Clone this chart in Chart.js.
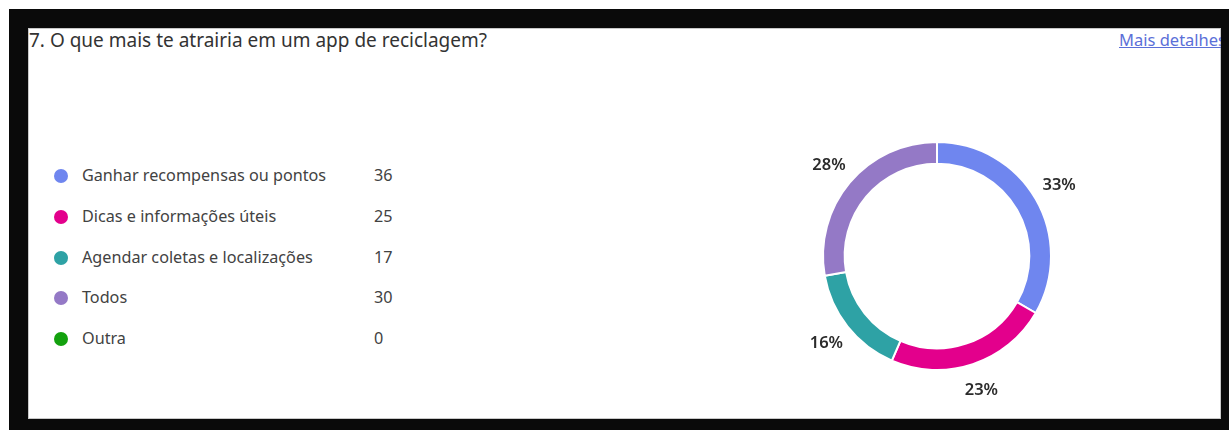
<!DOCTYPE html>
<html>
<head>
<meta charset="utf-8">
<script src="https://cdn.jsdelivr.net/npm/chart.js@4.4.1/dist/chart.umd.min.js"></script>
<style>
  html, body { margin: 0; padding: 0; background: #fff; }
  body { width: 1229px; height: 430px; position: relative; overflow: hidden; font-family: "Noto Sans", "Open Sans", sans-serif; }
  .frame { position: absolute; left: 9px; top: 9px; width: 1220px; height: 421px; background: #0a0a0a; }
  .card { position: absolute; left: 28px; top: 28px; width: 1193px; height: 391px; background: #fff; overflow: hidden; box-shadow: inset 0 0 0 1px #c8c8c8; }
  .title { position: absolute; left: 1px; top: -1px; font-size: 19px; color: #333; white-space: nowrap; }
  .more { position: absolute; left: 1091px; top: 0px; font-size: 16.5px; color: #5b6fd8; text-decoration: underline; white-space: nowrap; }
  .legend { position: absolute; left: 0; top: 0; }
  .row { position: absolute; left: 0; height: 20px; width: 400px; font-size: 16.2px; color: #424242; white-space: nowrap; }
  .dot { position: absolute; left: 26px; top: 3px; width: 14px; height: 14px; border-radius: 50%; }
  .lbl { position: absolute; left: 54px; top: -2px; }
  .val { position: absolute; left: 346px; top: -2px; }
  .chart-box { position: absolute; left: 752px; top: 72px; width: 314px; height: 312px; }
</style>
</head>
<body>
<div class="frame"></div>
<div class="card">
  <div class="title">7. O que mais te atrairia em um app de reciclagem?</div>
  <div class="more">Mais detalhes</div>
  <div class="legend" id="legend"></div>
  <div class="chart-box"><canvas id="donut"></canvas></div>
</div>
<script>
// Respostas da pergunta 7
var categories = ["Ganhar recompensas ou pontos", "Dicas e informações úteis", "Agendar coletas e localizações", "Todos", "Outra"];
var counts = [36, 25, 17, 30, 0];
var colors = ["#6f86ef", "#e3008c", "#2ea2a5", "#9479c6", "#13a10e"];

// Legenda com contagens
var legend = document.getElementById("legend");
categories.forEach(function (name, i) {
    var row = document.createElement("div");
    row.className = "row";
    row.style.top = (138 + i * 40.8) + "px";
    row.innerHTML = '<span class="dot" style="background:' + colors[i] + '"></span>' +
        '<span class="lbl">' + name + '</span><span class="val">' + counts[i] + '</span>';
    legend.appendChild(row);
});

// Percentuais fora do anel
var percentLabels = {
    id: "percentLabels",
    afterDatasetsDraw: function (chart) {
        var ctx = chart.ctx;
        var data = chart.data.datasets[0].data;
        var total = data.reduce(function (a, b) { return a + b; }, 0);
        ctx.save();
        ctx.font = "600 16.5px 'Noto Sans', 'Open Sans', sans-serif";
        ctx.fillStyle = "#2b2b2b";
        ctx.textAlign = "center";
        ctx.textBaseline = "middle";
        chart.getDatasetMeta(0).data.forEach(function (arc, i) {
            if (!data[i]) return;
            var p = arc.getProps(["x", "y", "startAngle", "endAngle", "outerRadius"], true);
            var mid = (p.startAngle + p.endAngle) / 2;
            var r = p.outerRadius + 27;
            ctx.fillText(Math.round(data[i] / total * 100) + "%", p.x + Math.cos(mid) * r, p.y + Math.sin(mid) * r);
        });
        ctx.restore();
    }
};

var ctx = document.getElementById("donut").getContext("2d");
var myChart = new Chart(ctx, {
    type: "doughnut",
    data: {
        labels: categories,
        datasets: [{
            data: counts,
            backgroundColor: colors,
            borderColor: "#ffffff",
            borderWidth: 2
        }]
    },
    options: {
        responsive: true,
        maintainAspectRatio: false,
        animation: false,
        radius: 114,
        cutout: "81%",
        plugins: {
            legend: { display: false },
            tooltip: { enabled: false }
        }
    },
    plugins: [percentLabels]
});
</script>
</body>
</html>
